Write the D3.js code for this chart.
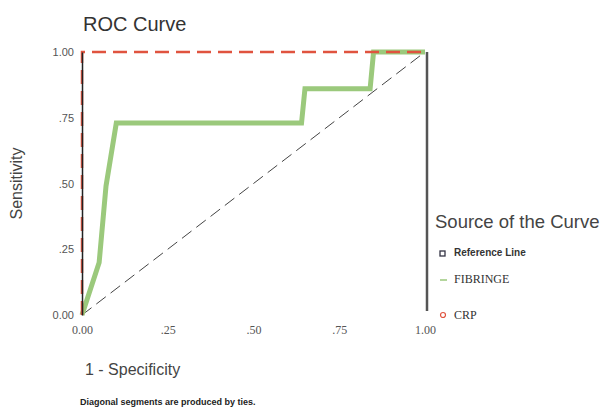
<!DOCTYPE html>
<html>
<head>
<meta charset="utf-8">
<script src="https://cdn.jsdelivr.net/npm/d3@7"></script>
<style>
  body { margin: 0; background: #fff; }
  text { font-family: "Liberation Sans", Arial, sans-serif; }
</style>
</head>
<body>
<div id="chart"></div>
<script>
// ticks shared by both axes
var tickValues = [0, 0.25, 0.5, 0.75, 1];
var tickLabels = ["0.00", ".25", ".50", ".75", "1.00"];

// curves: [1 - specificity, sensitivity]
var referenceLine = [[0, 0], [1, 1]];
var fibringe = [[0, 0], [0.05, 0.2], [0.07, 0.49], [0.1, 0.73], [0.35, 0.73], [0.64, 0.73],
                [0.65, 0.86], [0.84, 0.86], [0.85, 1], [1, 1]];
var crp = [[0, 0], [0, 1], [1, 1]];

var seriesNames = ["Reference Line", "FIBRINGE", "CRP"];

var width = 613, height = 407;
var margin = { top: 52, right: 188, bottom: 92, left: 82 };
var w = width - margin.left - margin.right,
    h = height - margin.top - margin.bottom;

var svg = d3.select("#chart")
    .append("svg")
    .attr("width", width)
    .attr("height", height);

// title
svg.append("text")
    .attr("x", 83)
    .attr("y", 31)
    .style("font-size", "20px")
    .style("fill", "#333")
    .text("ROC Curve");

var g = svg.append("g")
    .attr("transform", "translate(" + margin.left + "," + margin.top + ")");

var x = d3.scaleLinear().domain([0, 1]).range([0, w]);
var y = d3.scaleLinear().domain([0, 1]).range([h, 0]);

var line = d3.line()
    .x(function (d) { return x(d[0]); })
    .y(function (d) { return y(d[1]); });

// reference line
g.append("path")
    .datum(referenceLine)
    .attr("d", line)
    .attr("fill", "none")
    .attr("stroke", "#444")
    .attr("stroke-width", 1)
    .attr("stroke-dasharray", "12,6");

// FIBRINGE curve
g.append("path")
    .datum(fibringe)
    .attr("d", line)
    .attr("fill", "none")
    .attr("stroke", "#9bc97c")
    .attr("stroke-width", 5);

// CRP curve
g.append("path")
    .datum(crp)
    .attr("d", line)
    .attr("fill", "none")
    .attr("stroke", "#e0533f")
    .attr("stroke-width", 2.5)
    .attr("stroke-dasharray", "14,7");

// x axis labels
var xAxis = g.append("g")
    .attr("transform", "translate(0," + h + ")")
    .call(d3.axisBottom(x).tickValues(tickValues).tickSize(0).tickPadding(10)
        .tickFormat(function (d, i) { return tickLabels[i]; }));
xAxis.select(".domain").remove();
xAxis.selectAll("text")
    .style("font-family", "'Liberation Serif', serif")
    .style("font-size", "12px")
    .style("fill", "#555");

// y axis (drawn over the curves)
var yAxis = g.append("g")
    .call(d3.axisLeft(y).tickValues(tickValues).tickSize(0).tickPadding(8)
        .tickFormat(function (d, i) { return tickLabels[i]; }));
yAxis.select(".domain").attr("stroke", "#222").attr("stroke-width", 1.5);
yAxis.selectAll("text")
    .style("font-size", "11px")
    .style("fill", "#555");

// right frame line
g.append("line")
    .attr("x1", x(1) + 2).attr("x2", x(1) + 2)
    .attr("y1", y(1)).attr("y2", y(0) - 4)
    .attr("stroke", "#555")
    .attr("stroke-width", 2.5);

// axis titles
svg.append("text")
    .attr("x", 85)
    .attr("y", 375)
    .style("font-size", "16px")
    .style("fill", "#444")
    .text("1 - Specificity");

svg.append("text")
    .attr("transform", "translate(22," + (margin.top + h / 2) + ") rotate(-90)")
    .attr("text-anchor", "middle")
    .style("font-size", "16px")
    .style("fill", "#444")
    .text("Sensitivity");

// footnote
svg.append("text")
    .attr("x", 80)
    .attr("y", 405)
    .style("font-size", "9px")
    .style("font-weight", "bold")
    .style("fill", "#222")
    .text("Diagonal segments are produced by ties.");

// legend
var legend = svg.append("g").attr("transform", "translate(435,0)");
legend.append("text")
    .attr("x", 0).attr("y", 228)
    .style("font-size", "18.5px")
    .style("fill", "#444")
    .text("Source of the Curve");

var legendY = [255, 282, 318];
var legendColors = ["#333", "#9bc97c", "#e0533f"];
var items = legend.selectAll(".item")
    .data(seriesNames)
    .enter()
    .append("g")
    .attr("class", "item")
    .attr("transform", function (d, i) { return "translate(0," + legendY[i] + ")"; });

items.each(function (d, i) {
    var it = d3.select(this);
    if (i === 0) {
        it.append("rect").attr("x", 5).attr("y", -4).attr("width", 5).attr("height", 5)
            .attr("fill", "none").attr("stroke", "#334").attr("stroke-width", 1.3);
    } else if (i === 1) {
        it.append("line").attr("x1", 5).attr("x2", 12).attr("y1", -2).attr("y2", -2)
            .attr("stroke", legendColors[i]).attr("stroke-width", 1.5);
    } else {
        it.append("circle").attr("cx", 8).attr("cy", -3).attr("r", 2.5)
            .attr("fill", "none").attr("stroke", legendColors[i]).attr("stroke-width", 1.2);
    }
    it.append("text")
        .attr("x", 19).attr("y", 1)
        .style("font-family", i === 0 ? "'Liberation Sans', sans-serif" : "'Liberation Serif', serif")
        .style("font-size", i === 0 ? "10px" : "12px")
        .style("font-weight", i === 0 ? "bold" : "normal")
        .style("fill", "#333")
        .text(d);
});
</script>
</body>
</html>
